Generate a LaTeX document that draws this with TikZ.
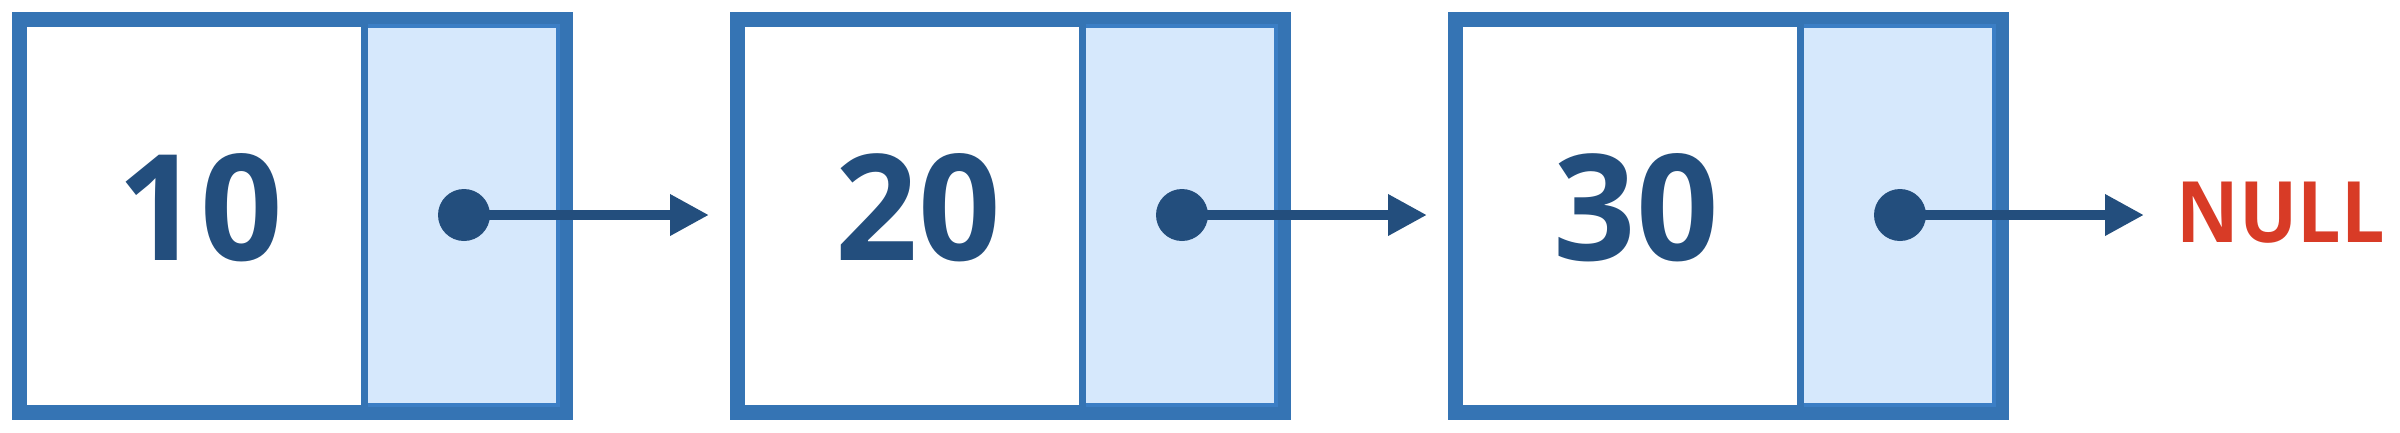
\documentclass[tikz,border=0pt]{standalone}
\usepackage{fontspec}
\usepackage{graphicx}
\setmainfont{Open Sans}
\usetikzlibrary{arrows.meta}
\definecolor{borderblue}{HTML}{3574B4}
\definecolor{ptrborder}{HTML}{3B7EC5}
\definecolor{ptrfill}{HTML}{D6E8FC}
\definecolor{navy}{HTML}{234E7D}
\definecolor{nullred}{HTML}{D83B26}
\tikzset{
  outerbox/.style={draw=borderblue, line width=4.5pt, fill=white, rectangle, inner sep=0pt,
    minimum width=163.8pt, minimum height=117.9pt},
  ptrbox/.style={draw=ptrborder, fill=ptrfill, line width=1.2pt, rectangle, inner sep=0pt,
    minimum width=58.2pt, minimum height=113.7pt},
  divider/.style={draw=borderblue, line width=2.1pt},
  valtext/.style={text=navy, font=\fontsize{45}{54}\selectfont\bfseries, inner sep=0pt, anchor=base},
  dotnode/.style={circle, fill=navy, inner sep=0pt, minimum size=15.6pt},
  ptrarrow/.style={draw=navy, line width=3pt, -{Triangle[length=11.7pt, width=11.7pt]}},
  nulltext/.style={text=nullred, font=\fontsize{25.4}{30}\selectfont\bfseries, inner sep=0pt, anchor=base west}
}
\begin{document}
\begin{tikzpicture}[x=0.3pt, y=-0.3pt]
\useasboundingbox (0,0) rectangle (2400,432);
\foreach \i/\L/\v in {1/12/10, 2/730/20, 3/1448/30}{
  \node[outerbox] (n\i) at (\L+280.5, 216) {};
  \node[ptrbox] (p\i) at (\L+449, 215.5) {};
  \draw[divider] (\L+352, 19) -- (\L+352, 413);
  \node[valtext] (t\i) at (\L+188, 260) {\resizebox{49.5pt}{32.1pt}{\v}};
  \node[dotnode] (d\i) at (\L+452, 215) {};
}
\node[nulltext] (null) at (2176, 242) {\resizebox{62.4pt}{18.15pt}{NULL}};
\draw[ptrarrow, shorten >=6.3pt] (d1.center) -- (d1.center -| n2.west);
\draw[ptrarrow, shorten >=6.3pt] (d2.center) -- (d2.center -| n3.west);
\draw[ptrarrow, shorten >=9.6pt] (d3.center) -- (d3.center -| null.west);
\end{tikzpicture}
\end{document}
